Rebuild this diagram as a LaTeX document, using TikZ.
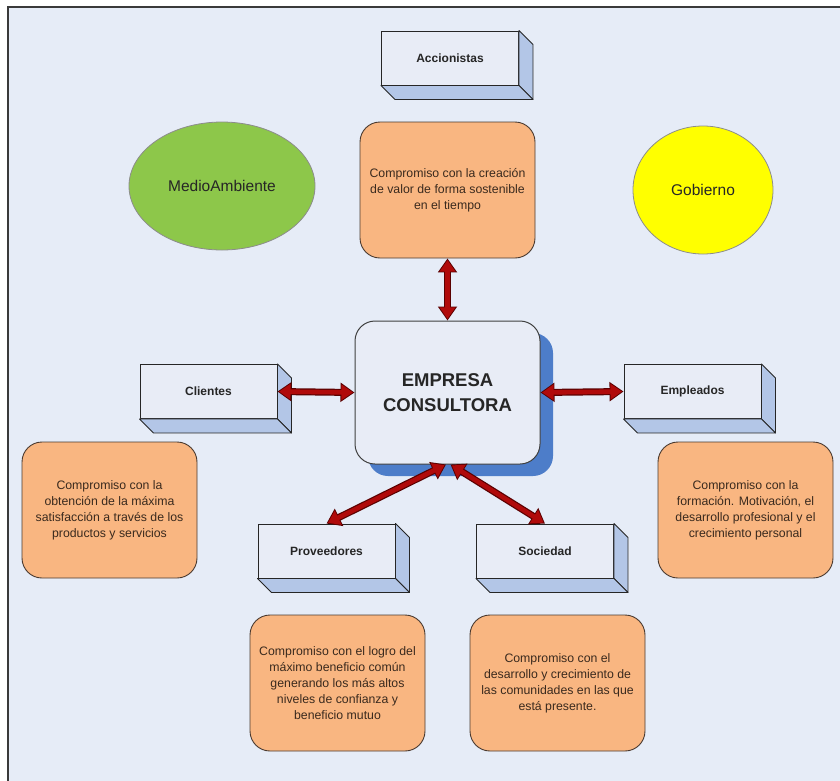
\documentclass[tikz,border=0pt]{standalone}
\usepackage{fontspec}
\setmainfont{Liberation Sans}
\usetikzlibrary{arrows.meta,calc,shapes.geometric,shadows}

\definecolor{canvas}{HTML}{E6ECF7}
\definecolor{framegray}{HTML}{3A3A3A}
\definecolor{notefill}{HTML}{F9B681}
\definecolor{noteline}{HTML}{4A3A30}
\definecolor{notetext}{HTML}{3A2A1E}
\definecolor{leaf}{HTML}{8DC74A}
\definecolor{sun}{HTML}{FFFF00}
\definecolor{panel}{HTML}{E8ECF6}
\definecolor{panelside}{HTML}{B3C6E7}
\definecolor{shadowblue}{HTML}{4D7DC9}
\definecolor{linkred}{HTML}{B00A0A}
\definecolor{linkdark}{HTML}{5A0000}

% side and bottom faces of an extruded label box
\newcommand\extrude[1]{%
  \filldraw[face] (#1.north east) -- ++(14,14) -- ($(#1.south east)+(14,14)$)
    -- (#1.south east) -- cycle;
  \filldraw[face] (#1.south west) -- (#1.south east) -- ++(14,14)
    -- ($(#1.south west)+(14,14)$) -- cycle;
}

\begin{document}
\begin{tikzpicture}[x=1pt,y=-1pt,
  note/.style={draw=noteline, line width=0.9pt, fill=notefill, rounded corners=20pt,
    minimum width=175pt, minimum height=136pt, inner sep=0pt, align=center,
    text=notetext, font=\fontsize{12.3}{16}\selectfont},
  label/.style={draw=black!85, line width=0.9pt, fill=panel,
    minimum width=137pt, minimum height=54pt, inner sep=0pt,
    text=black!85, font=\bfseries\fontsize{12}{14}\selectfont},
  face/.style={draw=black!85, line width=0.9pt, fill=panelside, line join=round},
  oval/.style={ellipse, draw=black!45, line width=0.8pt, inner sep=0pt,
    minimum height=128pt, font=\fontsize{15.5}{18}\selectfont, text=black!85},
  core/.style={draw=black!75, line width=1pt, fill=panel, rounded corners=20pt,
    minimum width=185pt, minimum height=143pt, inner sep=0pt, align=center,
    text=black!85, font=\bfseries\fontsize{18.5}{25}\selectfont,
    general shadow={shadow xshift=13pt, shadow yshift=-12pt, fill=shadowblue,
      rounded corners=20pt}},
  link/.style={line width=4.6pt, draw=linkred, shorten <=1.6pt, shorten >=1.6pt,
    {Triangle[width=15pt,length=11.5pt]}-{Triangle[width=15pt,length=11.5pt]},
    preaction={draw=linkdark, line width=7pt, shorten <=0pt, shorten >=0pt,
      {Triangle[width=18.5pt,length=14pt]}-{Triangle[width=18.5pt,length=14pt]}}}
]
\useasboundingbox (0,0) rectangle (840,780);
\clip (0,0) rectangle (840,780);
\fill[white] (0,0) rectangle (840,780);
\filldraw[fill=canvas, draw=framegray, line width=1.6pt] (8,7) rectangle (870,810);

% surrounding groups
\node[oval, fill=leaf, minimum width=186pt] (env) at (222,186) {MedioAmbiente};
\node[oval, fill=sun, minimum width=140pt] (gov) at (703,190) {Gobierno};

% extruded stakeholder labels
\node[label] (acc) at (450,58) {Accionistas};
\extrude{acc}
\node[label] (cli) at (208.5,391.5) {Clientes};
\extrude{cli}
\node[label] (emp) at (692.5,391.5) {Empleados};
\extrude{emp}
\node[label] (pro) at (326.5,551) {Proveedores};
\extrude{pro}
\node[label] (soc) at (545,551) {Sociedad};
\extrude{soc}

% commitments
\node[note] (nacc) at (447.5,190)
  {Compromiso con la creación\\de valor de forma sostenible\\en el tiempo};
\node[note] (ncli) at (109.5,510)
  {Compromiso con la\\obtención de la máxima\\satisfacción a través de los\\productos y servicios};
\node[note] (nemp) at (745.5,510)
  {Compromiso con la\\formación. Motivación, el\\desarrollo profesional y el\\crecimiento personal};
\node[note] (npro) at (337.5,683)
  {Compromiso con el logro del\\máximo beneficio común\\generando los más altos\\niveles de confianza y\\beneficio mutuo};
\node[note] (nsoc) at (557.5,683)
  {Compromiso con el\\desarrollo y crecimiento de\\las comunidades en las que\\está presente.};

% the company
\node[core] (core) at (447.5,392.5) {EMPRESA\\CONSULTORA};
\coordinate (coreL) at ([xshift=-1.5pt]core.south);
\coordinate (coreR) at ([xshift=3pt]core.south);

% relations
\draw[link] (nacc.south) -- (core.north);
\draw[link] (cli.east) -- (core.west);
\draw[link] (core.east) -- (emp.west);
\draw[link] (coreL) -- (pro.north);
\draw[link] (coreR) -- (soc.north);
\end{tikzpicture}
\end{document}
